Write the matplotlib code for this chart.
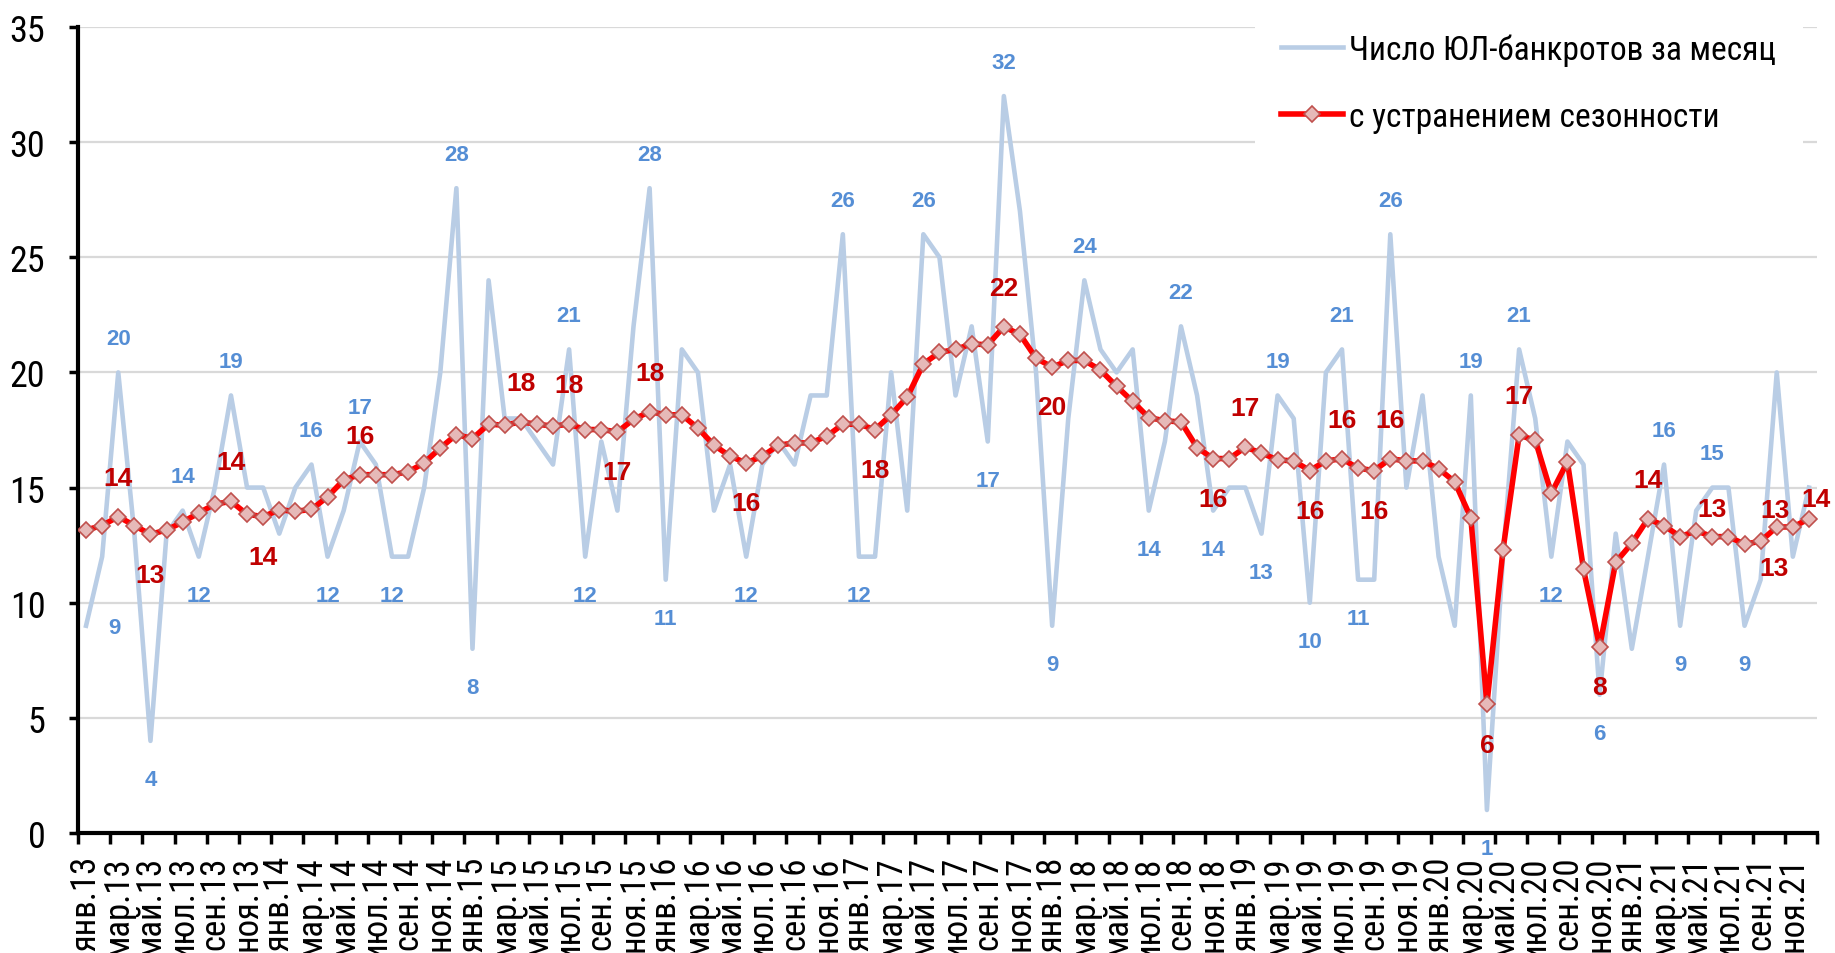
import matplotlib
matplotlib.use("Agg")
import matplotlib.pyplot as plt
import numpy as np
from matplotlib.ticker import FixedLocator, NullFormatter

NARROW = ["Liberation Sans Narrow", "Arial Narrow", "Roboto Condensed",
          "IBM Plex Sans Condensed", "Liberation Sans", "DejaVu Sans"]
BOLD = ["Liberation Sans", "DejaVu Sans"]
plt.rcParams["font.family"] = NARROW

MONTHS = ["янв", "фев", "мар", "апр", "май", "июн", "июл", "авг", "сен", "окт", "ноя", "дек"]
YEARS = ["13", "14", "15", "16", "17", "18", "19", "20", "21"]
CATEGORIES = [f"{m}.{y}" for y in YEARS for m in MONTHS]

# число ЮЛ-банкротов за месяц
BANKRUPT = [
    9, 12, 20, 13, 4, 13, 14, 12, 15, 19, 15, 15, 13, 15, 16, 12, 14, 17, 16,
    12, 12, 15, 20, 28, 8, 24, 18, 18, 17, 16, 21, 12, 17, 14, 22, 28, 11,
    21, 20, 14, 16, 12, 16, 17, 16, 19, 19, 26, 12, 12, 20, 14, 26, 25, 19,
    22, 17, 32, 27, 20, 9, 18, 24, 21, 20, 21, 14, 17, 22, 19, 14, 15, 15,
    13, 19, 18, 10, 20, 21, 11, 11, 26, 15, 19, 12, 9, 19, 1, 12, 21, 18,
    12, 17, 16, 6, 13, 8, 12, 16, 9, 14, 15, 15, 9, 11, 20, 12, 15,
]

# с устранением сезонности
SEASONAL_ADJ = [
    13.16, 13.35, 13.74, 13.35, 12.97, 13.16, 13.50, 13.90, 14.28, 14.40,
    13.84, 13.74, 14.03, 13.97, 14.05, 14.60, 15.33, 15.56, 15.56,
    15.56, 15.68, 16.07, 16.72, 17.30, 17.13, 17.75, 17.71, 17.85, 17.75,
    17.67, 17.75, 17.52, 17.52, 17.42, 17.96, 18.30, 18.16,
    18.16, 17.58, 16.84, 16.36, 16.07, 16.36, 16.84, 16.94, 16.94, 17.23,
    17.75, 17.75, 17.52, 18.16, 18.93, 20.37, 20.87, 21.00,
    21.24, 21.20, 21.98, 21.65, 20.62, 20.23, 20.52, 20.52, 20.10, 19.40,
    18.74, 18.04, 17.90, 17.85, 16.74, 16.26, 16.26, 16.75,
    16.50, 16.20, 16.16, 15.74, 16.16, 16.25, 15.84, 15.74, 16.25, 16.16,
    16.16, 15.82, 15.25, 13.69, 5.59, 12.30, 17.27, 17.06,
    14.75, 16.12, 11.45, 8.08, 11.76, 12.58, 13.64, 13.35, 12.87, 13.12,
    12.87, 12.87, 12.54, 12.67, 13.29, 13.29, 13.64,
]

# which points carry a value label and where it sits
BLUE_LABELS = [
    (0, "r"), (2, "a"), (4, "b"), (6, "a"), (7, "b"), (9, "a"), (14, "a"), (15, "b"),
    (17, "a"), (19, "b"), (23, "a"), (24, "b"), (30, "a"), (31, "b"), (35, "a"),
    (36, "b"), (41, "b"), (47, "a"), (48, "b"), (52, "a"), (56, "b"), (57, "a"),
    (60, "b"), (62, "a"), (66, "b"), (68, "a"), (70, "b"), (73, "b"), (74, "a"),
    (76, "b"), (78, "a"), (79, "b"), (81, "a"), (86, "a"), (87, "b"), (89, "a"),
    (91, "b"), (94, "b"), (98, "a"), (99, "b"), (101, "a"), (103, "b"),
]
RED_LABELS = [
    (2, "a"), (4, "b"), (9, "a"), (11, "b"), (17, "a"), (27, "a"), (30, "a"),
    (33, "b"), (35, "a"), (41, "b"), (49, "b"), (57, "a"), (60, "b"), (70, "b"),
    (72, "a"), (76, "b"), (78, "a"), (80, "b"), (81, "a"), (87, "b"), (89, "a"),
    (94, "b"), (97, "a"), (101, "a2"), (104, "b2"), (105, "a3"), (107, "c"),
]
BLUE_OFFSETS = {"a": (0, 24.5), "b": (0, -28), "r": (20.5, -1.5)}
RED_OFFSETS = {"a": (0, 28), "b": (0, -29), "a2": (0, 20), "b2": (10, -19),
               "a3": (-1, 12), "c": (5, 14)}

BLUE_LINE = "#B9CDE5"
BLUE_TEXT = "#558ED5"
RED_LINE = "#FF0000"
RED_TEXT = "#C00000"

fig = plt.figure(figsize=(18.35, 9.54), dpi=100)
ax = fig.add_axes([78 / 1835, 120 / 954, (1817 - 78) / 1835, (834 - 28) / 954])

x = np.arange(len(CATEGORIES))
blue_line, = ax.plot(x, BANKRUPT, color=BLUE_LINE, lw=3.3, zorder=2,
                     label="Число ЮЛ-банкротов за месяц")
red_line, = ax.plot(x, SEASONAL_ADJ, color=RED_LINE, lw=4, marker="D", ms=8,
                    mfc="#E6B9B8", mec="#C0504D", mew=1.2, zorder=3,
                    label="с устранением сезонности")

for idx, pos in BLUE_LABELS:
    ax.annotate(f"{BANKRUPT[idx]:.0f}", (x[idx], BANKRUPT[idx]),
                xytext=BLUE_OFFSETS[pos], textcoords="offset points",
                ha="center", va="center", color=BLUE_TEXT, fontsize=16,
                fontweight="bold", family=BOLD, annotation_clip=False, zorder=5)
for idx, pos in RED_LABELS:
    ax.annotate(f"{SEASONAL_ADJ[idx]:.0f}", (x[idx], SEASONAL_ADJ[idx]),
                xytext=RED_OFFSETS[pos], textcoords="offset points",
                ha="center", va="center", color=RED_TEXT, fontsize=19,
                fontweight="bold", family=BOLD, annotation_clip=False, zorder=5)

ax.set_xlim(-0.5, len(CATEGORIES) - 0.5)
ax.set_ylim(0, 35)
ax.set_yticks(np.arange(0, 36, 5))
ax.yaxis.grid(True, color="#D9D9D9", lw=1.6)
ax.set_axisbelow(True)

# ticks between categories, labels on every other category
ax.xaxis.set_major_locator(FixedLocator(np.arange(-0.5, len(CATEGORIES), 2)))
ax.xaxis.set_major_formatter(NullFormatter())
ax.xaxis.set_minor_locator(FixedLocator(x[::2]))
ax.set_xticklabels(CATEGORIES[::2], minor=True, rotation=90, va="top", ha="center")
ax.tick_params(axis="x", which="major", direction="out", length=8, width=2.5)
ax.tick_params(axis="x", which="minor", length=0, pad=16, labelsize=25)
ax.tick_params(axis="y", direction="out", length=6.5, width=2.5, pad=17, labelsize=26)

for side in ("top", "right"):
    ax.spines[side].set_visible(False)
for side in ("left", "bottom"):
    ax.spines[side].set_linewidth(3)
    ax.spines[side].set_color("black")

leg = ax.legend(handles=[blue_line, red_line], loc="upper left",
                bbox_to_anchor=(1238 / 1835, 1.0096), bbox_transform=fig.transFigure,
                fontsize=24, frameon=True, facecolor="white", edgecolor="none",
                framealpha=1, handlelength=1.86, handletextpad=0.18,
                labelspacing=1.06, borderpad=0.8, fancybox=False)
leg.set_zorder(6)

fig.savefig("out.png", dpi=100)
